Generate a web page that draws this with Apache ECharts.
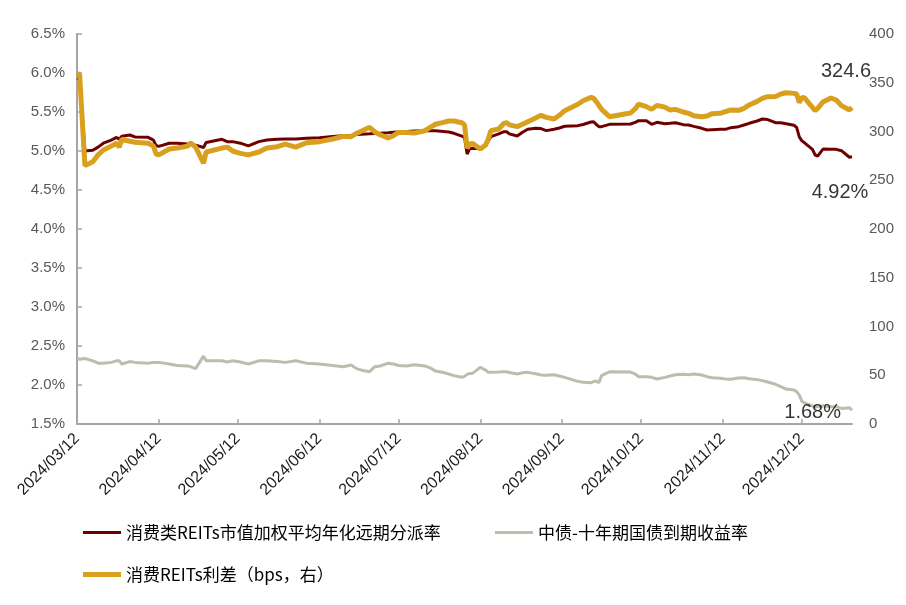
<!DOCTYPE html>
<html><head><meta charset="utf-8">
<script src="https://cdn.jsdelivr.net/npm/echarts@6/dist/echarts.min.js"></script>
<style>html,body{margin:0;padding:0;background:#fff}#c{width:906px;height:605px}</style>
</head><body><div id="c"></div>
<script>
const dates = ['2024/03/12','2024/03/13','2024/03/15','2024/03/18','2024/03/20','2024/03/22','2024/03/25','2024/03/27','2024/03/28','2024/03/29',
'2024/04/01','2024/04/03','2024/04/08','2024/04/10','2024/04/11','2024/04/12','2024/04/16','2024/04/19','2024/04/23','2024/04/24','2024/04/26','2024/04/29','2024/04/30',
'2024/05/06','2024/05/08','2024/05/10','2024/05/13','2024/05/16','2024/05/20','2024/05/23','2024/05/27','2024/05/30',
'2024/06/03','2024/06/07','2024/06/12','2024/06/17','2024/06/21','2024/06/24','2024/06/26','2024/06/28',
'2024/07/01','2024/07/03','2024/07/05','2024/07/08','2024/07/10','2024/07/12','2024/07/15','2024/07/18','2024/07/22','2024/07/24','2024/07/26','2024/07/29','2024/07/31',
'2024/08/02','2024/08/05','2024/08/06','2024/08/07','2024/08/08','2024/08/09','2024/08/12','2024/08/14','2024/08/15','2024/08/16','2024/08/19','2024/08/21','2024/08/22','2024/08/23','2024/08/26','2024/08/28','2024/08/30',
'2024/09/02','2024/09/04','2024/09/06','2024/09/09','2024/09/11','2024/09/13','2024/09/18','2024/09/20','2024/09/23','2024/09/24','2024/09/25','2024/09/26','2024/09/27','2024/09/30',
'2024/10/08','2024/10/10','2024/10/11','2024/10/14','2024/10/16','2024/10/18','2024/10/21','2024/10/23','2024/10/25','2024/10/28','2024/10/30',
'2024/11/01','2024/11/04','2024/11/06','2024/11/08','2024/11/11','2024/11/13','2024/11/15','2024/11/18','2024/11/20','2024/11/22','2024/11/25','2024/11/27','2024/11/29',
'2024/12/02','2024/12/04','2024/12/06','2024/12/09','2024/12/10','2024/12/11','2024/12/12','2024/12/13','2024/12/16','2024/12/17','2024/12/18','2024/12/20','2024/12/23','2024/12/25','2024/12/27','2024/12/30','2024/12/31'];

const reitYield = [5.93,5.92,5.00,5.01,5.05,5.10,5.14,5.175,5.15,5.19,
5.205,5.18,5.175,5.14,5.07,5.06,5.10,5.10,5.09,5.085,5.075,5.045,5.11,
5.15,5.12,5.12,5.10,5.065,5.12,5.14,5.15,5.155,
5.155,5.163,5.17,5.185,5.196,5.20,5.21,5.215,
5.22,5.225,5.228,5.235,5.24,5.245,5.25,5.255,5.26,5.26,5.26,5.25,5.243,
5.227,5.19,5.175,4.962,5.03,5.034,5.03,5.07,5.13,5.184,5.22,5.248,5.248,5.22,5.192,5.24,5.278,
5.291,5.287,5.261,5.278,5.295,5.317,5.325,5.34,5.372,5.376,5.34,5.312,5.312,5.342,
5.346,5.37,5.389,5.389,5.342,5.368,5.35,5.355,5.363,5.338,5.333,
5.316,5.291,5.269,5.274,5.278,5.278,5.299,5.312,5.333,5.355,5.385,5.41,5.403,
5.363,5.363,5.35,5.33,5.303,5.18,5.13,5.105,5.021,4.949,4.936,5.025,5.021,5.021,5.004,4.92,4.925];

const bondYield = [2.34,2.33,2.34,2.31,2.28,2.28,2.29,2.31,2.31,2.27,
2.30,2.29,2.28,2.29,2.29,2.29,2.27,2.25,2.245,2.235,2.21,2.37,2.31,
2.31,2.295,2.31,2.295,2.27,2.31,2.31,2.30,2.29,
2.31,2.28,2.27,2.25,2.235,2.256,2.21,2.19,
2.171,2.235,2.244,2.28,2.27,2.25,2.244,2.26,2.244,2.22,2.18,2.16,2.141,
2.12,2.099,2.11,2.137,2.149,2.149,2.226,2.19,2.162,2.162,2.166,2.171,2.17,2.16,2.141,2.158,2.162,
2.145,2.128,2.124,2.132,2.115,2.098,2.047,2.034,2.03,2.043,2.051,2.03,2.12,2.17,
2.166,2.137,2.107,2.107,2.098,2.077,2.098,2.115,2.132,2.137,2.132,
2.141,2.128,2.107,2.094,2.086,2.077,2.073,2.09,2.094,2.081,2.069,2.056,2.038,
2.009,1.978,1.948,1.936,1.915,1.87,1.79,1.77,1.731,1.722,1.72,1.735,1.722,1.722,1.70,1.709,1.679];

const spreadBp = [359.7,358,265,269,276,281,285,288,284,292,
290,289,288,285,277,276,282,283,285,288.5,284,267.5,279,
283,284,280,277.6,276,279,283,284.4,287,
284,288.5,289.6,292.3,295,294.7,298,300.5,
304.3,299.5,296.7,293.3,295.7,299.1,299,298.5,300.8,304.3,307.4,309.4,310.8,
310.8,309,307,283,287,287.9,282.1,286.2,292,300.9,302.5,308.4,309.1,306.8,305,307.4,310.1,
313.9,316.6,314.5,312.8,316.6,321.4,327.9,331.6,335,334,330.6,326.8,322.7,315.2,
319,324,328.2,325.5,322.7,326.8,325,322.1,322.7,320,318.6,
316.2,315.2,315.9,318.3,318.6,320.3,322.1,321.7,323.8,327.2,330.9,334,335.7,
336,338.5,339.8,339.1,338.5,329.6,335,334.4,324.8,321.4,323.8,330.3,334.4,332.3,326.5,322.1,324.6];

const tickDates = ['2024/03/12','2024/04/12','2024/05/12','2024/06/12','2024/07/12','2024/08/12','2024/09/12','2024/10/12','2024/11/12','2024/12/12'];
const endDate = '2024/12/31';
const nameReit = '消费类REITs市值加权平均年化远期分派率';
const nameBond = '中债-十年期国债到期收益率';
const nameSpread = '消费REITs利差（bps，右）';

const base = Date.UTC(2024, 2, 12);
function dayOf(s){ const p = s.split('/').map(Number); return Math.round((Date.UTC(p[0], p[1]-1, p[2]) - base) / 86400000); }
function dateOf(d){ const t = new Date(base + d*86400000); return t.getUTCFullYear() + '/' + String(t.getUTCMonth()+1).padStart(2,'0') + '/' + String(t.getUTCDate()).padStart(2,'0'); }
const xs = dates.map(dayOf);
const ticks = tickDates.map(dayOf);
const pairs = vals => vals.map((v, i) => [xs[i], v]);
const last = vals => [[xs[xs.length-1], vals[vals.length-1]]];

const C_RED = '#6E0000', C_GRAY = '#BEBCAE', C_GOLD = '#D9A01E';
const labelFont = 'Arial, "Liberation Sans", sans-serif';
const legendBase = {
  icon: 'rect', itemWidth: 38, selectedMode: false,
  textStyle: { fontSize: 17, color: '#000', fontFamily: '"Noto Sans CJK SC", sans-serif' }
};
const endLabelSeries = (name, axis, vals, pos, off, fmt) => ({
  name: name, type: 'scatter', yAxisIndex: axis, data: last(vals), symbolSize: 2, silent: true, z: 10,
  itemStyle: { color: 'rgba(255,255,255,0)' },
  label: { show: true, position: pos, offset: off, fontSize: 20, color: '#000', fontFamily: labelFont, formatter: fmt }
});

const chart = echarts.init(document.getElementById('c'), null, { renderer: 'canvas' });
chart.setOption({
  animation: false,
  backgroundColor: '#fff',
  grid: { left: 77, right: 54, top: 34, bottom: 181 },
  legend: [
    Object.assign({}, legendBase, { data: [nameReit], left: 78, top: 519, itemHeight: 3 }),
    Object.assign({}, legendBase, { data: [nameBond], left: 490, top: 519, itemHeight: 3 }),
    Object.assign({}, legendBase, { data: [nameSpread], left: 78, top: 561, itemHeight: 5 })
  ],
  xAxis: {
    type: 'value', min: 0, max: dayOf(endDate),
    splitLine: { show: false },
    axisLine: { show: true, lineStyle: { color: '#A6A6A6', width: 2 } },
    axisTick: { show: true, inside: true, length: 5, customValues: ticks, lineStyle: { color: '#A6A6A6', width: 1.5 } },
    axisLabel: { customValues: ticks, rotate: 45, margin: 12, fontSize: 16, color: '#1a1a1a', fontFamily: labelFont,
      formatter: v => dateOf(v) }
  },
  yAxis: [
    { type: 'value', min: 1.5, max: 6.5, interval: 0.5,
      splitLine: { show: false },
      axisLine: { show: true, lineStyle: { color: '#A6A6A6', width: 2 } },
      axisTick: { show: true, inside: true, length: 5, lineStyle: { color: '#A6A6A6', width: 1.5 } },
      axisLabel: { margin: 12, fontSize: 15, color: '#595959', fontFamily: labelFont, formatter: v => v.toFixed(1) + '%' } },
    { type: 'value', min: 0, max: 400, interval: 50, position: 'right',
      splitLine: { show: false },
      axisLine: { show: false }, axisTick: { show: false },
      axisLabel: { margin: 17, fontSize: 15, color: '#595959', fontFamily: labelFont } }
  ],
  series: [
    { name: nameReit, type: 'line', yAxisIndex: 0, data: pairs(reitYield), showSymbol: false, symbol: 'none',
      lineStyle: { color: C_RED, width: 3 }, itemStyle: { color: C_RED }, z: 3 },
    { name: nameBond, type: 'line', yAxisIndex: 0, data: pairs(bondYield), showSymbol: false, symbol: 'none',
      lineStyle: { color: C_GRAY, width: 3 }, itemStyle: { color: C_GRAY }, z: 2 },
    { name: nameSpread, type: 'line', yAxisIndex: 1, data: pairs(spreadBp), showSymbol: false, symbol: 'none',
      lineStyle: { color: C_GOLD, width: 5 }, itemStyle: { color: C_GOLD }, z: 4 },
    endLabelSeries('lbl1', 1, spreadBp, 'top', [-6, -20], p => p.value[1].toFixed(1)),
    endLabelSeries('lbl2', 0, reitYield, 'bottom', [-12, 20], p => p.value[1].toFixed(2) + '%'),
    endLabelSeries('lbl3', 0, bondYield, 'left', [-5, 2], p => p.value[1].toFixed(2) + '%')
  ]
});
</script></body></html>
